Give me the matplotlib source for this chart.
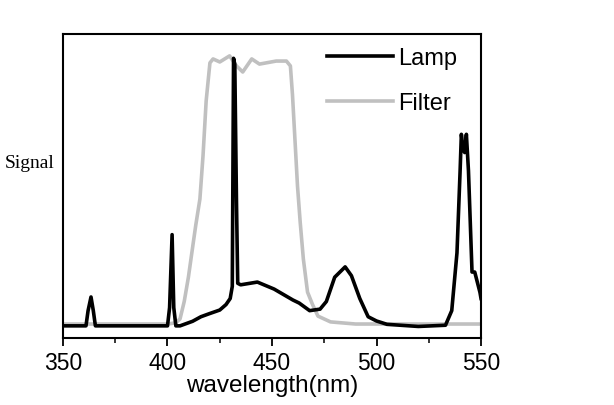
import matplotlib
matplotlib.use("Agg")
import matplotlib.pyplot as plt
from matplotlib.ticker import MultipleLocator

lamp_wl = [350, 361, 362, 363.4, 364.5, 365.5, 400, 401, 402.2, 403, 404, 406, 408, 412,
           416, 420, 425, 428, 430, 431, 431.6, 432.2, 433, 433.6, 435, 443, 451, 460, 463,
           468, 473, 476, 480, 485, 488, 492, 496, 500, 505, 520, 533, 536, 538.5, 540,
           540.6, 541.5, 542.2, 543, 544, 545.7, 547, 549.5, 550]
lamp_sig = [0.04, 0.04, 0.09, 0.135, 0.09, 0.04, 0.04, 0.1, 0.34, 0.1, 0.04, 0.04, 0.045, 0.055,
            0.07, 0.08, 0.092, 0.11, 0.13, 0.17, 0.92, 0.90, 0.45, 0.18, 0.175, 0.184, 0.161, 0.125, 0.115,
            0.09, 0.095, 0.12, 0.2, 0.234, 0.205, 0.13, 0.07, 0.056, 0.045, 0.038, 0.042, 0.09, 0.28, 0.55,
            0.67, 0.62, 0.61, 0.67, 0.55, 0.217, 0.217, 0.15, 0.13]

filt_wl = [350, 400, 404, 406, 408, 410, 411.7, 413.5, 415.5, 417, 418.5, 420.3, 421.8, 425, 429.7,
           433, 436, 440.3, 444, 452, 456.9, 458.8, 459.8, 461, 462.2, 463.5, 465, 467, 469.4, 472,
           478, 490, 550]
filt_sig = [0.046, 0.046, 0.05, 0.063, 0.12, 0.2, 0.283, 0.37, 0.457, 0.6, 0.78, 0.905, 0.918, 0.908,
            0.928, 0.895, 0.875, 0.918, 0.901, 0.911, 0.911, 0.895, 0.8, 0.65, 0.5, 0.38, 0.26, 0.151, 0.11,
            0.072, 0.053, 0.046, 0.046]

xticks = [350, 400, 450, 500, 550]

fig = plt.figure(figsize=(6.14, 4.06), dpi=100)
ax = fig.add_axes([0.1026, 0.165, 0.6808, 0.7488])
ax.plot(filt_wl, filt_sig, color="#c0c0c0", lw=2.6, label="Filter", zorder=2)
ax.plot(lamp_wl, lamp_sig, color="black", lw=2.6, label="Lamp", zorder=3)
ax.set_xlim(350, 550)
ax.set_ylim(0, 1)
ax.set_xticks(xticks)
ax.xaxis.set_minor_locator(MultipleLocator(25))
ax.set_yticks([])
ax.tick_params(axis="x", which="major", direction="out", length=6, width=1.3,
               labelsize=16.5, pad=3)
ax.tick_params(axis="x", which="minor", direction="out", length=3.5, width=1.1)
for lbl in ax.get_xticklabels():
    lbl.set_fontfamily("Liberation Sans")
for s in ax.spines.values():
    s.set_linewidth(1.5)
ax.set_xlabel("wavelength(nm)", fontsize=17.5, family="Liberation Sans", labelpad=0)
fig.text(0.008, 0.5985, "Signal", fontsize=14, family="Liberation Serif", va="center", ha="left")

handles, labels = ax.get_legend_handles_labels()
leg = ax.legend(handles[::-1], labels[::-1], loc="upper left", frameon=False,
                prop={"family": "Liberation Sans", "size": 17}, handlelength=2.8,
                handletextpad=0.2, labelspacing=1.0, borderpad=0, borderaxespad=0,
                bbox_to_anchor=(0.632, 0.958))
fig.savefig("out.png", dpi=100)
